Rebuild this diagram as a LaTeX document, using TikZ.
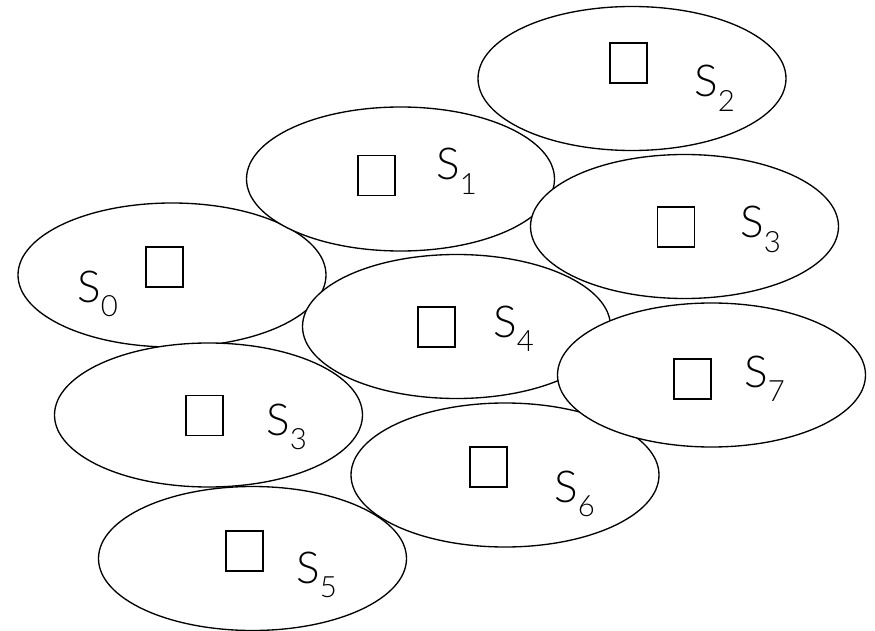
\documentclass[tikz,border=0pt]{standalone}
\usepackage{fontspec}
\setmainfont{Lato Light}
\usetikzlibrary{shapes.geometric}

\newcommand{\cellname}[1]{S\raisebox{-11pt}{\fontsize{22}{22}\selectfont #1}}

\begin{document}
\begin{tikzpicture}[
  x=0.75pt, y=-0.75pt,
  cell/.style={ellipse, draw=black, line width=1pt, fill=white,
    minimum width=231pt, minimum height=108pt, inner sep=0pt},
  site/.style={draw=black, line width=0.8pt, minimum width=27.75pt,
    minimum height=30pt, inner sep=0pt},
  cname/.style={font=\fontsize{33}{33}\selectfont, anchor=base west, inner sep=0pt}
]
\useasboundingbox (0,0) rectangle (875,631);

% Cells, later ones lie on top
\node[cell] (cell0) at (172,275) {};
\node[cell] (cell1) at (400.5,179) {};
\node[cell] (cell2) at (632,78.5) {};
\node[cell] (cell3) at (684.5,226.5) {};
\node[cell] (cell4) at (456.5,326.5) {};
\node[cell] (cell3b) at (208.5,415) {};
\node[cell] (cell5) at (252.5,558.5) {};
\node[cell] (cell6) at (505,475) {};
\node[cell] (cell7) at (711.5,375) {};

% Sites
\node[site] (site0) at (164.5,267) {};
\node[site] (site1) at (376.5,175.5) {};
\node[site] (site2) at (628.5,63) {};
\node[site] (site3) at (676,227) {};
\node[site] (site4) at (436.5,327) {};
\node[site] (site3b) at (204.5,415.5) {};
\node[site] (site5) at (244.5,551) {};
\node[site] (site6) at (488.5,467) {};
\node[site] (site7) at (692.5,379) {};

% Labels
\node[cname] (name0) at (77,302) {\cellname{0}};
\node[cname] (name1) at (436,180) {\cellname{1}};
\node[cname] (name2) at (694,97) {\cellname{2}};
\node[cname] (name3) at (740,238) {\cellname{3}};
\node[cname] (name4) at (493,337) {\cellname{4}};
\node[cname] (name3b) at (266,435) {\cellname{3}};
\node[cname] (name5) at (296,583) {\cellname{5}};
\node[cname] (name6) at (554,502) {\cellname{6}};
\node[cname] (name7) at (744,387) {\cellname{7}};
\end{tikzpicture}
\end{document}
